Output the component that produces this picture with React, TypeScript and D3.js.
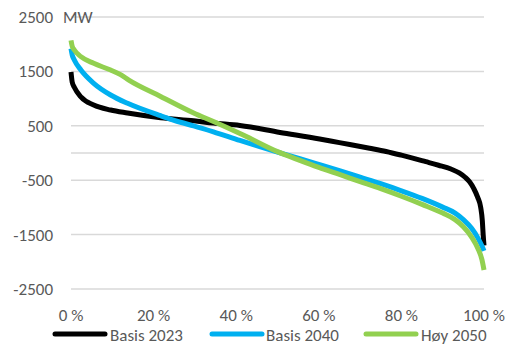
import React from "react";
import * as d3 from "d3";

const yTicks = [2500, 1500, 500, -500, -1500, -2500];
const xTicks = [0, 20, 40, 60, 80, 100];

const seriesNames = ["Basis 2023", "Basis 2040", "Høy 2050"];
const seriesColors = ["#000000", "#00B0F0", "#92D050"];

const basis2023Pct = [0, 0.3, 0.8, 2.4, 5.5, 9.6, 13.7, 21.7, 29.7, 34.5, 40.9, 50.6, 60.2, 65, 72.3, 76.3, 80, 85.9, 89, 92, 94, 95.5, 96.5, 97.5, 98.5, 99.2, 99.6, 99.8, 100];
const basis2023 = [1490, 1300, 1210, 1030, 882, 790, 735, 648, 592, 550, 505, 378, 258, 190, 88, 28, -40, -160, -225, -295, -365, -450, -530, -650, -820, -1000, -1250, -1500, -1700];

const basis2040Pct = [0, 0.3, 0.8, 2.4, 5.5, 9.6, 13.7, 21.7, 26.5, 29.7, 34.5, 40.9, 50, 55.4, 60, 65, 70, 75, 80, 85, 90, 93, 95, 97, 98.5, 99.5, 100];
const basis2040 = [1920, 1800, 1710, 1525, 1281, 1066, 913, 685, 565, 500, 390, 230, 15, -105, -210, -325, -445, -565, -695, -835, -995, -1105, -1225, -1385, -1560, -1710, -1800];

const hoy2050Pct = [0, 0.3, 0.8, 2.4, 5.5, 9.6, 12, 14, 21.7, 29.7, 34.5, 41.7, 50, 55.4, 60, 65, 70, 75, 80, 85, 90, 93, 95, 97, 98.5, 99.5, 100];
const hoy2050 = [2070, 1960, 1893, 1770, 1648, 1525, 1440, 1340, 1040, 735, 578, 330, 25, -135, -265, -395, -525, -655, -795, -945, -1105, -1225, -1355, -1545, -1750, -1960, -2150];

const seriesPct = [basis2023Pct, basis2040Pct, hoy2050Pct];
const seriesVals = [basis2023, basis2040, hoy2050];

const W = 507;
const H = 345;
const FONT = "Calibri, Carlito, Lato, 'Open Sans', sans-serif";
const TXT = "#595959";

export default function App() {
  const x = d3.scaleLinear().domain([0, 100]).range([71, 484]);
  const y = d3.scaleLinear().domain([-2500, 2500]).range([289, 17]);
  const line = d3
    .line<[number, number]>()
    .x((d) => x(d[0]))
    .y((d) => y(d[1]))
    .curve(d3.curveMonotoneX);

  const gridVals = [...yTicks, 0];
  const legendX = [[55, 105, 110], [212, 262, 266], [366, 416, 421]];

  return (
    <svg width={W} height={H} style={{ position: "absolute", left: 0, top: 0, background: "#fff" }}>
      {gridVals.map((v) => (
        <line key={v} x1={71} x2={484} y1={y(v)} y2={y(v)} stroke="#d9d9d9" strokeWidth={1.5} />
      ))}
      {yTicks.map((v) => (
        <text key={v} x={53} y={y(v)} dy="0.35em" textAnchor="end" fontFamily={FONT} fontSize={17} fill={TXT}>
          {v}
        </text>
      ))}
      <text x={63} y={y(2500)} dy="0.35em" fontFamily={FONT} fontSize={17} fill={TXT}>MW</text>
      {xTicks.map((v) => (
        <text key={v} x={x(v)} y={315} dy="0.35em" textAnchor="middle" fontFamily={FONT} fontSize={17} fill={TXT}>
          {v} %
        </text>
      ))}
      {seriesVals.map((vals, i) => (
        <path
          key={i}
          d={line(vals.map((v, j) => [seriesPct[i][j], v]) as [number, number][]) || ""}
          fill="none"
          stroke={seriesColors[i]}
          strokeWidth={5}
          strokeLinejoin="round"
        />
      ))}
      {seriesNames.map((n, i) => (
        <g key={n}>
          <line x1={legendX[i][0]} x2={legendX[i][1]} y1={334} y2={334} stroke={seriesColors[i]} strokeWidth={5} strokeLinecap="round" />
          <text x={legendX[i][2]} y={335} dy="0.35em" fontFamily={FONT} fontSize={17} fill={TXT}>{n}</text>
        </g>
      ))}
    </svg>
  );
}
